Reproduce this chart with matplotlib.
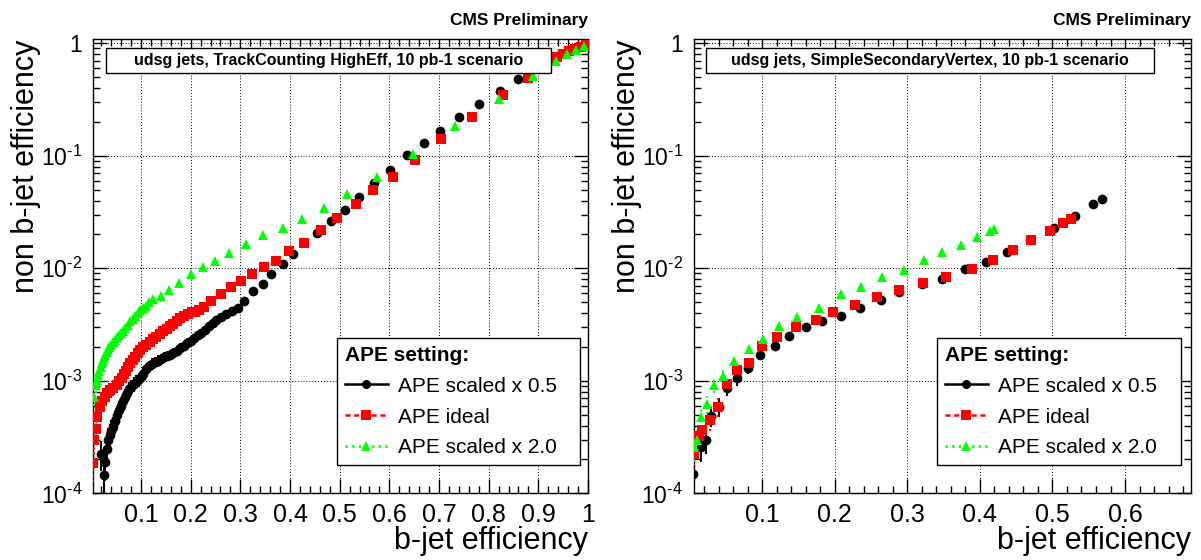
import numpy as np
import matplotlib

matplotlib.use("Agg")
import matplotlib.pyplot as plt
from matplotlib.lines import Line2D
from matplotlib.patches import Rectangle
from matplotlib.ticker import FixedLocator, FuncFormatter, LogLocator, MultipleLocator, NullFormatter


# ---- TrackCounting HighEff (left panel) ----
tc_half_x = [0.019, 0.026, 0.028, 0.031, 0.034, 0.037, 0.040, 0.044, 0.048, 0.052,
             0.056, 0.060, 0.064, 0.068, 0.072, 0.076, 0.080, 0.085, 0.090, 0.095,
             0.100, 0.105, 0.111, 0.117, 0.123, 0.129, 0.135, 0.141, 0.147, 0.153,
             0.159, 0.165, 0.172, 0.179, 0.186, 0.193, 0.200, 0.207, 0.214, 0.221,
             0.228, 0.236, 0.244, 0.252, 0.262, 0.272, 0.283, 0.295, 0.308, 0.325,
             0.345, 0.362, 0.385, 0.407, 0.454, 0.482, 0.510, 0.538, 0.569, 0.602,
             0.635, 0.669, 0.702, 0.740, 0.780, 0.822, 0.860, 0.927, 0.945, 0.962,
             0.978, 0.992]
tc_half_y = [2.25e-4, 1.45e-4, 1.9e-4, 2.5e-4, 3.0e-4, 3.3e-4, 3.6e-4, 3.9e-4, 4.4e-4, 5.0e-4,
             5.5e-4, 6.0e-4, 6.6e-4, 7.2e-4, 7.8e-4, 8.4e-4, 8.8e-4, 9.4e-4, 9.8e-4, 1.03e-3,
             1.08e-3, 1.16e-3, 1.26e-3, 1.34e-3, 1.42e-3, 1.47e-3, 1.51e-3, 1.56e-3, 1.62e-3, 1.67e-3,
             1.71e-3, 1.76e-3, 1.85e-3, 1.95e-3, 2.05e-3, 2.17e-3, 2.28e-3, 2.40e-3, 2.55e-3, 2.68e-3,
             2.85e-3, 3.05e-3, 3.25e-3, 3.45e-3, 3.72e-3, 3.95e-3, 4.15e-3, 4.4e-3, 5.1e-3, 6.3e-3,
             7.3e-3, 8.9e-3, 0.0109, 0.0134, 0.0204, 0.0264, 0.0332, 0.0429, 0.0574, 0.075,
             0.101, 0.129, 0.166, 0.221, 0.288, 0.38, 0.485, 0.74, 0.80, 0.86,
             0.91, 0.96]

tc_ideal_x = [0.004, 0.0053, 0.0087, 0.012, 0.017, 0.022, 0.027, 0.032, 0.038, 0.044,
              0.051, 0.056, 0.061, 0.065, 0.069, 0.074, 0.078, 0.083, 0.088, 0.093,
              0.098, 0.104, 0.111, 0.118, 0.125, 0.131, 0.138, 0.145, 0.152, 0.158,
              0.165, 0.172, 0.179, 0.187, 0.195, 0.202, 0.209, 0.217, 0.226, 0.241,
              0.261, 0.281, 0.301, 0.323, 0.347, 0.372, 0.398, 0.429, 0.462, 0.495,
              0.532, 0.567, 0.608, 0.652, 0.705, 0.767, 0.829, 0.879, 0.925, 0.938,
              0.950, 0.962, 0.974, 0.986, 0.995]
tc_ideal_y = [1.86e-4, 2.95e-4, 3.7e-4, 4.8e-4, 5.9e-4, 6.6e-4, 7.2e-4, 7.8e-4, 8.3e-4, 8.7e-4,
              9.2e-4, 9.9e-4, 1.06e-3, 1.14e-3, 1.22e-3, 1.32e-3, 1.43e-3, 1.54e-3, 1.64e-3, 1.76e-3,
              1.88e-3, 1.98e-3, 2.09e-3, 2.20e-3, 2.34e-3, 2.47e-3, 2.61e-3, 2.75e-3, 2.88e-3, 3.04e-3,
              3.2e-3, 3.4e-3, 3.6e-3, 3.8e-3, 3.94e-3, 4.05e-3, 4.12e-3, 4.3e-3, 4.57e-3, 5.16e-3,
              5.91e-3, 6.77e-3, 7.78e-3, 8.9e-3, 0.0102, 0.0117, 0.0143, 0.0168, 0.0218, 0.0282,
              0.037, 0.0498, 0.0653, 0.0916, 0.142, 0.220, 0.345, 0.49, 0.70, 0.75,
              0.80, 0.85, 0.89, 0.93, 0.96]

tc_double_x = [0.006, 0.009, 0.012, 0.014, 0.016, 0.019, 0.021, 0.023, 0.025, 0.028,
               0.031, 0.033, 0.036, 0.039, 0.043, 0.047, 0.051, 0.055, 0.059, 0.063,
               0.068, 0.073, 0.078, 0.083, 0.088, 0.093, 0.098, 0.104, 0.110, 0.117,
               0.125, 0.141, 0.157, 0.177, 0.200, 0.225, 0.248, 0.278, 0.312, 0.345,
               0.385, 0.425, 0.469, 0.514, 0.575, 0.648, 0.733, 0.820, 0.889, 0.935,
               0.958, 0.975, 0.992]
tc_double_y = [7.2e-4, 9.2e-4, 1.02e-3, 1.12e-3, 1.21e-3, 1.33e-3, 1.43e-3, 1.51e-3, 1.59e-3, 1.70e-3,
               1.82e-3, 1.90e-3, 1.98e-3, 2.08e-3, 2.19e-3, 2.32e-3, 2.44e-3, 2.55e-3, 2.65e-3, 2.78e-3,
               2.93e-3, 3.13e-3, 3.37e-3, 3.57e-3, 3.77e-3, 4.0e-3, 4.27e-3, 4.45e-3, 4.64e-3, 5.0e-3,
               5.3e-3, 5.62e-3, 6.42e-3, 7.36e-3, 8.9e-3, 0.0102, 0.0117, 0.0136, 0.0166, 0.0196,
               0.0228, 0.0272, 0.0345, 0.0459, 0.0653, 0.1035, 0.182, 0.32, 0.51, 0.69,
               0.81, 0.875, 0.95]

# ---- SimpleSecondaryVertex (right panel) ----
ssv_half_x = [0.0045, 0.015, 0.023, 0.030, 0.040, 0.052, 0.0645, 0.080, 0.097, 0.118,
              0.137, 0.160, 0.183, 0.208, 0.235, 0.263, 0.288, 0.320, 0.348, 0.380,
              0.408, 0.438, 0.469, 0.502, 0.531, 0.556, 0.568]
ssv_half_y = [1.48e-4, 2.6e-4, 3.0e-4, 4.9e-4, 5.9e-4, 8.6e-4, 1.05e-3, 1.3e-3, 1.7e-3, 2.05e-3,
              2.48e-3, 3.0e-3, 3.4e-3, 3.8e-3, 4.4e-3, 5.2e-3, 6.2e-3, 7.2e-3, 8.1e-3, 9.9e-3,
              0.0114, 0.0139, 0.0177, 0.0229, 0.029, 0.0369, 0.0415]

ssv_ideal_x = [0.0055, 0.0129, 0.0175, 0.028, 0.039, 0.0515, 0.0657, 0.0814, 0.100, 0.121,
               0.146, 0.174, 0.198, 0.228, 0.258, 0.288, 0.321, 0.353, 0.389, 0.418,
               0.445, 0.470, 0.496, 0.515, 0.526]
ssv_ideal_y = [2.25e-4, 3.23e-4, 3.62e-4, 4.5e-4, 5.9e-4, 9.3e-4, 1.24e-3, 1.43e-3, 2.03e-3, 2.45e-3,
               2.98e-3, 3.44e-3, 4.08e-3, 4.76e-3, 5.57e-3, 6.37e-3, 7.4e-3, 8.4e-3, 9.9e-3, 0.0119,
               0.0145, 0.0178, 0.0214, 0.0253, 0.0275]

ssv_double_x = [0.0058, 0.0101, 0.0158, 0.0235, 0.0329, 0.0455, 0.0606, 0.0814, 0.1015, 0.123,
                0.148, 0.178, 0.208, 0.2357, 0.2656, 0.2959, 0.3235, 0.3483, 0.3736, 0.3957,
                0.4143, 0.4189]
ssv_double_y = [2.6e-4, 3.0e-4, 4.8e-4, 6.2e-4, 9.2e-4, 1.11e-3, 1.49e-3, 1.91e-3, 2.35e-3, 3.09e-3,
                3.66e-3, 4.44e-3, 5.94e-3, 6.82e-3, 8.4e-3, 9.7e-3, 0.0118, 0.0139, 0.016, 0.0189,
                0.0214, 0.0224]

# rough size of the light-jet sample, used for binomial error bars
N_LIGHT_JETS = 5.0e4

series_labels = ["APE scaled x 0.5", "APE ideal", "APE scaled x 2.0"]
left_title = "udsg jets, TrackCounting HighEff, 10 pb-1 scenario"
right_title = "udsg jets, SimpleSecondaryVertex, 10 pb-1 scenario"

GREEN = "#00ff00"
RED = "#ff0000"
DASHED = (0, (2.0, 1.5))


def draw_series(ax, x, y, color, marker, ms, bar_style):
    x = np.asarray(x)
    y = np.asarray(y)
    err = np.sqrt(y * (1 - y) / N_LIGHT_JETS)
    cont = ax.errorbar(
        x, y, yerr=err, fmt=marker, color=color, ms=ms, mec=color, mew=0,
        elinewidth=1.5, capsize=0, zorder=4,
    )
    for col in cont[2]:
        col.set_linestyle(bar_style)


def log_label(v, pos):
    exp = int(round(np.log10(v)))
    if exp == 0:
        return "1"
    # plain hyphen in the exponent, like the ROOT labels
    sign = r"\text{-}" if exp < 0 else ""
    return rf"$10^{{{sign}{abs(exp)}}}$"


def style_axes(ax, xlim, xticks):
    ax.set_xlim(*xlim)
    ax.set_yscale("log")
    ax.set_ylim(1e-4, 1.08)
    ax.xaxis.set_major_locator(FixedLocator(xticks))
    ax.xaxis.set_major_formatter(FuncFormatter(lambda v, p: f"{v:g}"))
    ax.xaxis.set_minor_locator(MultipleLocator(0.02))
    ax.yaxis.set_major_locator(LogLocator(base=10, numticks=10))
    ax.yaxis.set_major_formatter(FuncFormatter(log_label))
    ax.yaxis.set_minor_locator(LogLocator(base=10, subs=np.arange(2, 10), numticks=20))
    ax.yaxis.set_minor_formatter(NullFormatter())
    ax.tick_params(which="both", direction="in", top=True, right=True, width=1.0)
    ax.tick_params(which="major", length=10)
    ax.tick_params(which="minor", length=5)
    ax.tick_params(axis="x", which="major", labelsize=18, pad=7)
    ax.tick_params(axis="y", which="major", labelsize=16.5, pad=8)
    ax.grid(True, which="major", color="black", linestyle=(0, (1, 2)), linewidth=0.7)
    ax.set_axisbelow(True)
    for sp in ax.spines.values():
        sp.set_linewidth(1.0)

    ax.text(1.0, -0.1227, "b-jet efficiency", transform=ax.transAxes,
            ha="right", va="baseline", fontsize=22)
    ax.text(1.0, 1.031, "CMS Preliminary", transform=ax.transAxes,
            ha="right", va="baseline", fontsize=12.5, fontweight="bold")


def add_title_box(ax, label):
    ax.add_patch(
        Rectangle((0.025, 0.9255), 0.9, 0.055, transform=ax.transAxes,
                  facecolor="white", edgecolor="black", linewidth=1.0, zorder=6)
    )
    ax.text(0.475, 0.953, label, transform=ax.transAxes, ha="center", va="center",
            fontsize=11.5, fontweight="bold", zorder=7)


def add_legend(ax, x0):
    handles = [
        Line2D([], [], color="black", lw=1.8, ls="-", marker="o", ms=6.5, mew=0),
        Line2D([], [], color=RED, lw=1.8, ls=DASHED, marker="s", ms=6.5, mew=0),
        Line2D([], [], color=GREEN, lw=1.8, ls=":", marker="^", ms=6.5, mew=0),
    ]
    leg = ax.legend(
        handles, series_labels, title="APE setting:",
        loc="upper left", bbox_to_anchor=(x0, 0.0256, 0.4914, 0.316), mode="expand",
        fontsize=15, title_fontproperties={"weight": "bold", "size": 15},
        alignment="left", frameon=True, fancybox=False, edgecolor="black",
        framealpha=1, handlelength=2.1, handletextpad=0.45, labelspacing=0.57,
        borderpad=0.36, borderaxespad=0,
    )
    leg.get_frame().set_linewidth(1.0)
    leg.set_zorder(8)


def main():
    plt.rcParams.update(
        {
            "font.family": ["Liberation Sans", "DejaVu Sans"],
            "mathtext.fontset": "custom",
            "mathtext.rm": "Liberation Sans",
            "mathtext.it": "Liberation Sans:italic",
            "mathtext.bf": "Liberation Sans:bold",
            "mathtext.default": "regular",
            "figure.facecolor": "white",
        }
    )

    fig = plt.figure(figsize=(12.01, 5.6), dpi=100)
    ax_l = fig.add_axes([0.0777, 0.1191, 0.4119, 0.8104])
    ax_r = fig.add_axes([0.5779, 0.1191, 0.4138, 0.8104])

    # left: TrackCounting HighEff
    draw_series(ax_l, tc_half_x, tc_half_y, "black", "o", 7, "-")
    draw_series(ax_l, tc_ideal_x, tc_ideal_y, RED, "s", 7.5, ":")
    draw_series(ax_l, tc_double_x, tc_double_y, GREEN, "^", 7.5, ":")
    style_axes(ax_l, (0.004, 1.0), [0.1, 0.2, 0.3, 0.4, 0.5, 0.6, 0.7, 0.8, 0.9, 1.0])
    add_title_box(ax_l, left_title)
    add_legend(ax_l, 0.4926)

    # right: SimpleSecondaryVertex
    draw_series(ax_r, ssv_half_x, ssv_half_y, "black", "o", 7, "-")
    draw_series(ax_r, ssv_ideal_x, ssv_ideal_y, RED, "s", 7.5, ":")
    draw_series(ax_r, ssv_double_x, ssv_double_y, GREEN, "^", 7.5, ":")
    style_axes(ax_r, (0.006, 0.691), [0.1, 0.2, 0.3, 0.4, 0.5, 0.6])
    add_title_box(ax_r, right_title)
    add_legend(ax_r, 0.489)

    for xpos in (34.0, 634.7):
        fig.text(xpos / 1201, 1 - 40 / 560, "non b-jet efficiency", rotation=90,
                 rotation_mode="anchor", ha="right", va="baseline", fontsize=22)

    fig.savefig("out.png", dpi=100, facecolor="white")


if __name__ == "__main__":
    main()
